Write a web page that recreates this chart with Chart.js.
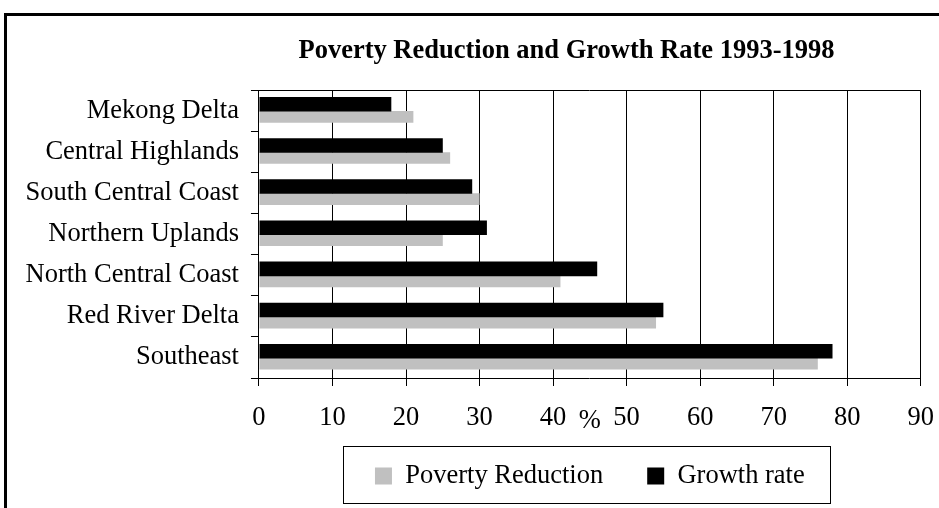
<!DOCTYPE html>
<html>
<head>
<meta charset="utf-8">
<title>Poverty Reduction and Growth Rate 1993-1998</title>
<script src="https://cdn.jsdelivr.net/npm/chart.js@4.4.1/dist/chart.umd.min.js"></script>
<style>
html, body {margin: 0; padding: 0; background: #fff; overflow: hidden;}
#frame {position: absolute; left: 4px; top: 13px; width: 1200px; height: 700px; border-top: 3px solid #000; border-left: 3px solid #000;}
#chartBox {position: absolute; left: 0; top: 0; width: 939px; height: 508px;}
</style>
</head>
<body>
<div id="frame"></div>
<div id="chartBox"><canvas id="chart1canvas" width="939" height="508"></canvas></div>
<script>
/* Regions, top to bottom */
const regions=["Mekong Delta","Central Highlands","South Central Coast","Northern Uplands","North Central Coast","Red River Delta","Southeast"];

/* Values in percent */
const growthRate=[18,25,29,31,46,55,78];
const povertyReduction=[21,26,30,25,41,54,76];

/* Value axis */
const valueTicks=[0,10,20,30,40,50,60,70,80,90];
const valueUnit="%";

const chartTitle="Poverty Reduction and Growth Rate 1993-1998";

const serif="'Liberation Serif', 'Times New Roman', serif";

Chart.defaults.font.family=serif;
Chart.defaults.font.size=26.5;
Chart.defaults.color="#000";

/**
 * Draws the heading (centered over the whole chart frame, not the plot).
 */
const headingPlugin={
  id: 'heading',
  afterDraw(chart, args, opts) {
    const ctx=chart.ctx;
    ctx.save();
    ctx.font="bold 26.5px "+serif;
    ctx.fillStyle="#000";
    ctx.textAlign="center";
    ctx.textBaseline="middle";
    ctx.fillText(opts.text,opts.x,opts.y);
    ctx.restore();
  }
};

/**
 * Draws a thin box around the legend items.
 */
const legendFramePlugin={
  id: 'legendFrame',
  afterDraw(chart) {
    const boxes=chart.legend.legendHitBoxes;
    if (!boxes || boxes.length==0) return;
    const first=boxes[0];
    const last=boxes[boxes.length-1];
    const left=Math.round(first.left-32)+0.5;
    const right=Math.round(last.left+last.width+25)+0.5;
    const top=Math.round(first.top-17)+0.5;
    const bottom=Math.round(first.top+first.height+14)+0.5;
    const ctx=chart.ctx;
    ctx.save();
    ctx.strokeStyle="#000";
    ctx.lineWidth=1;
    ctx.strokeRect(left,top,right-left,bottom-top);
    ctx.restore();
  }
};

const chartData={
  labels: regions,
  datasets: [
    {label: "Growth rate", data: growthRate, backgroundColor: "#000", borderWidth: 0, categoryPercentage: 0.61, barPercentage: 1.16},
    {label: "Poverty Reduction", data: povertyReduction, backgroundColor: "#c0c0c0", borderWidth: 0, categoryPercentage: 0.61, barPercentage: 0.93}
  ]
};

const chartOptions={
  indexAxis: 'y',
  responsive: false,
  animation: false,
  devicePixelRatio: 1,
  layout: {padding: {left: 13.5, right: 0, top: 90, bottom: 8.75}},
  scales: {
    x: {
      position: 'bottom',
      min: 0,
      max: 90,
      afterBuildTicks: axis=>{axis.ticks=valueTicks.map(v=>({value: v}));},
      /* tall line height pushes the labels down without widening the side padding */
      ticks: {padding: 5, color: "#000", font: {lineHeight: 54/26.5}},
      grid: {color: "#000", lineWidth: 1, tickLength: 8, drawTicks: true},
      border: {color: "#000", width: 1},
      /* unit sits on the same line as the tick labels */
      title: {display: true, text: valueUnit, color: "#000", padding: {top: -44.9, bottom: 0}}
    },
    xTop: {
      axis: 'x',
      position: 'top',
      min: 0,
      max: 90,
      ticks: {display: false},
      grid: {display: false, drawTicks: false},
      border: {display: true, color: "#000", width: 1}
    },
    y: {
      offset: true,
      ticks: {padding: 12, color: "#000"},
      grid: {offset: true, drawOnChartArea: false, color: "#000", tickLength: 8},
      border: {color: "#000", width: 1}
    }
  },
  plugins: {
    legend: {
      position: 'bottom',
      fullSize: false,
      reverse: true,
      /* empty title only used to pull the items up */
      title: {display: true, text: "", font: {size: 10, lineHeight: 1.2}, padding: {top: -30.15, bottom: 0}},
      labels: {boxWidth: 17, boxHeight: 17, padding: 44, color: "#000"}
    },
    tooltip: {enabled: false},
    heading: {text: chartTitle, x: 566.5, y: 51}
  }
};

new Chart(document.getElementById("chart1canvas"),{type: 'bar', data: chartData, options: chartOptions, plugins: [headingPlugin, legendFramePlugin]});
</script>
</body>
</html>
